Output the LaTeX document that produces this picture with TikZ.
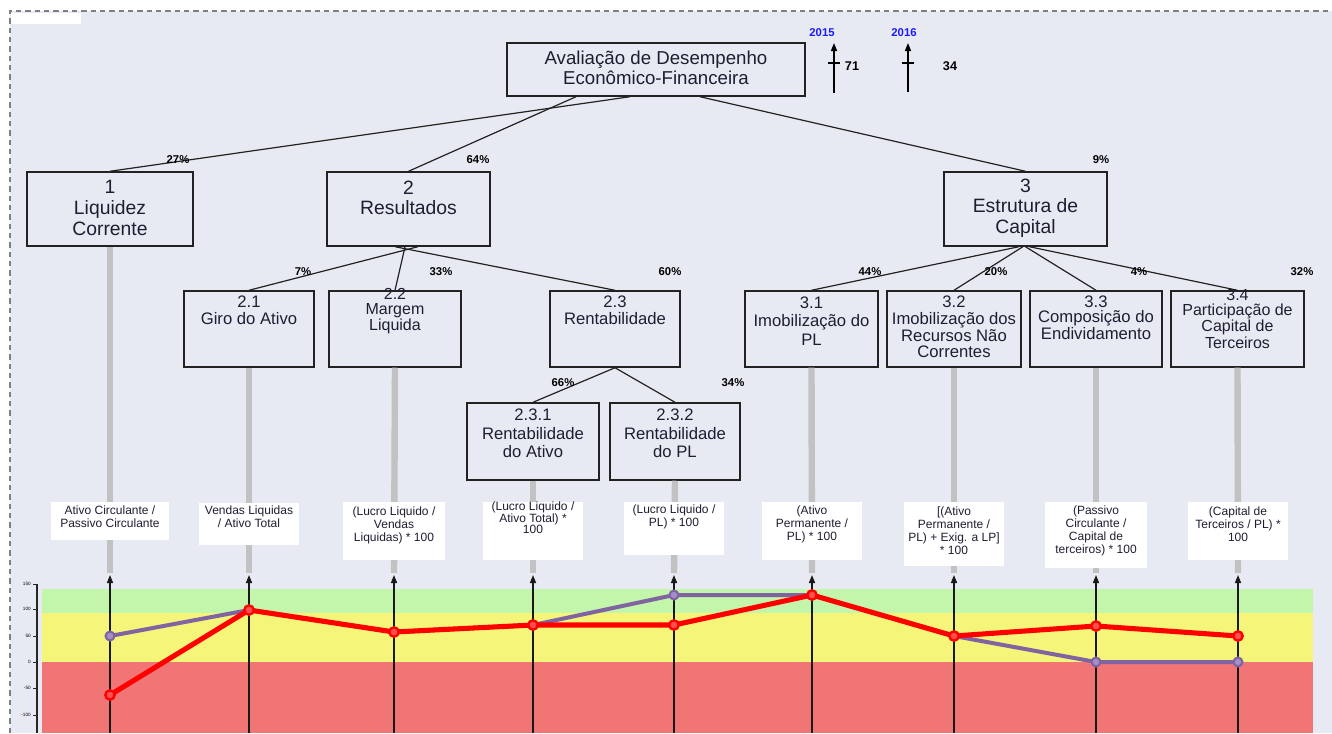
\documentclass[tikz,border=0pt]{standalone}
\usepackage{fontspec}
\setmainfont{Liberation Sans}
\usetikzlibrary{fit,arrows.meta}
\definecolor{bgc}{HTML}{E8EAF3}
\definecolor{gbar}{HTML}{C2C2C2}
\definecolor{bgreen}{HTML}{C3F5AB}
\definecolor{byellow}{HTML}{F5F57A}
\definecolor{bred}{HTML}{F27576}
\definecolor{lpurple}{HTML}{8064A2}
\definecolor{lpurplef}{HTML}{A48FCB}
\definecolor{lred}{HTML}{FF0000}
\definecolor{lredf}{HTML}{FF5050}
\definecolor{yblue}{HTML}{1A1AFF}
\definecolor{boxc}{HTML}{222222}
\definecolor{txtc}{HTML}{1E1E32}
\newcommand\myfs[2]{\fontsize{#1}{#2}\selectfont}
\begin{document}
\begin{tikzpicture}[x=0.75pt,y=-0.75pt,
  box/.style={draw=boxc, line width=1.1pt, inner sep=0pt},
  txt/.style={align=center, inner sep=0pt, text=txtc},
  pct/.style={inner sep=0pt, font=\bfseries\myfs{8.5}{9}},
  conn/.style={draw=boxc, line width=0.9pt},
  gbarst/.style={draw=gbar, line width=4.8pt},
  form/.style={fill=white, inner sep=0pt},
  ftxt/.style={align=center, inner sep=0pt, font=\myfs{9}{9.75}, text=txtc},
  vax/.style={draw=black!90, line width=1.1pt, -{Triangle[length=6pt,width=4.5pt]}},
  year/.style={inner sep=0pt, text=yblue, font=\bfseries\myfs{8.5}{9}},
  num/.style={inner sep=0pt, font=\bfseries\myfs{9.5}{10}},
  axl/.style={inner sep=0pt, anchor=east, font=\myfs{3.5}{4}},
  pline/.style={draw=lpurple, line width=3pt, line join=round},
  rline/.style={draw=lred, line width=3.8pt, line join=round},
  pdot/.style={circle, inner sep=0pt, minimum size=6.5pt, draw=lpurple, fill=lpurplef, line width=1.5pt},
  rdot/.style={circle, inner sep=0pt, minimum size=7pt, draw=lred, fill=lredf, line width=1.8pt}
]
\useasboundingbox (0,0) rectangle (1332,733);
% background
\fill[white] (0,0) rectangle (1332,733);
\fill[bgc] (10,11) rectangle (1332,733);
\draw[gray, line width=0.8pt, dash pattern=on 4pt off 3pt] (10,733) -- (10,11) -- (1332,11);
\fill[white] (11,13) rectangle (81,24);

% chart bands
\fill[bgreen] (42,589) rectangle (1313,613);
\fill[byellow] (42,613) rectangle (1313,662);
\fill[bred] (42,662) rectangle (1313,733);

% top box
\node[box, fit={(507,43)(805,96)}] (top) {};
\node[txt, font=\myfs{14}{15}] (topt) at (656,68) {Avaliação de Desempenho\\Econômico-Financeira};

% year arrows
\coordinate (a1b) at (834,93); \coordinate (a1t) at (834,43); \coordinate (k1) at (834,63);
\draw[black, line width=1.1pt, -{Triangle[length=6pt,width=4.5pt]}] (a1b) -- (a1t);
\draw[black, line width=1.1pt] ([xshift=-4.5pt]k1) -- ([xshift=4.5pt]k1);
\node[year] (y1) at (822,33) {2015};
\node[num] (n1) at (852,66) {71};
\coordinate (a2b) at (908,92); \coordinate (a2t) at (908,43); \coordinate (k2) at (908,63);
\draw[black, line width=1.1pt, -{Triangle[length=6pt,width=4.5pt]}] (a2b) -- (a2t);
\draw[black, line width=1.1pt] ([xshift=-4.5pt]k2) -- ([xshift=4.5pt]k2);
\node[year] (y2) at (904,33) {2016};
\node[num] (n2) at (950,66) {34};

% level 1
\node[box, fit={(27,172)(193,246)}] (b1) {};
\node[txt, font=\myfs{14.5}{15.5}] at (110,208) {1\\Liquidez\\Corrente};
\node[box, fit={(327,172)(490,246)}] (b2) {};
\node[txt, font=\myfs{14.5}{15.5}] at (408.5,198) {2\\Resultados};
\node[box, fit={(944,172)(1107,246)}] (b3) {};
\node[txt, font=\myfs{14.5}{15.5}] at (1025.5,208) {3\\Estrutura de\\Capital};

\draw[conn] ([xshift=-19.5pt]top.south) -- (b1.north);
\draw[conn] ([xshift=-60pt]top.south) -- (b2.north);
\draw[conn] ([xshift=33pt]top.south) -- (b3.north);
\node[pct] at (178,160) {27\%};
\node[pct] at (478,160) {64\%};
\node[pct] at (1101,160) {9\%};

% level 2
\node[box, fit={(184,291)(314,367)}] (b21) {};
\node[txt, font=\myfs{12.5}{12.75}] at (249,310.5) {2.1\\Giro do Ativo};
\node[box, fit={(329,291)(461,367)}] (b22) {};
\node[txt, font=\myfs{12}{11}] at (395,311) {2.2\\Margem\\Liquida};
\node[box, fit={(550,291)(680,367)}] (b23) {};
\node[txt, font=\myfs{12.5}{12.75}] at (615,310.5) {2.3\\Rentabilidade};
\node[box, fit={(467,403)(599,480)}] (b231) {};
\node[txt, font=\myfs{12.5}{13.9}] at (533,433.5) {2.3.1\\Rentabilidade\\do Ativo};
\node[box, fit={(610,403)(740,480)}] (b232) {};
\node[txt, font=\myfs{12.5}{13.9}] at (675,433.5) {2.3.2\\Rentabilidade\\do PL};

\node[box, fit={(745,291)(878,367)}] (b31) {};
\node[txt, font=\myfs{12.5}{14}] at (811.5,321) {3.1\\Imobilização do\\PL};
\node[box, fit={(887,291)(1021,367)}] (b32) {};
\node[txt, font=\myfs{12.5}{12.5}] at (954,327) {3.2\\Imobilização dos\\Recursos Não\\Correntes};
\node[box, fit={(1030,291)(1162,367)}] (b33) {};
\node[txt, font=\myfs{12.5}{11.5}] at (1096,318) {3.3\\Composição do\\Endividamento};
\node[box, fit={(1171,291)(1304,367)}] (b34) {};
\node[txt, font=\myfs{12}{11}] at (1237.5,319) {3.4\\Participação de\\Capital de\\Terceiros};

\draw[conn] ([xshift=7pt]b2.south) -- (b21.north);
\draw[conn] ([xshift=-2.6pt]b2.south) -- (b22.north);
\draw[conn] ([xshift=-10pt]b2.south) -- (b23.north);
\node[pct] at (303,272) {7\%};
\node[pct] at (441,272) {33\%};
\node[pct] at (670,272) {60\%};

\draw[conn] (b23.south) -- (b231.north);
\draw[conn] (b23.south) -- (b232.north);
\node[pct] at (563,383) {66\%};
\node[pct] at (733,383) {34\%};

\draw[conn] ([xshift=-5pt]b3.south) -- (b31.north);
\draw[conn] ([xshift=-2pt]b3.south) -- (b32.north);
\draw[conn] (b3.south) -- (b33.north);
\draw[conn] ([xshift=3pt]b3.south) -- (b34.north);
\node[pct] at (870,272) {44\%};
\node[pct] at (996,272) {20\%};
\node[pct] at (1139,272) {4\%};
\node[pct] at (1302,272) {32\%};

% column coordinates
\foreach \i/\x in {1/110,2/249,3/394,4/533,5/674,6/812,7/954,8/1096,9/1238}{
  \coordinate (t\i) at (\x,573);
  \coordinate (v\i) at (\x,575);
  \coordinate (u\i) at (\x,733);
}
% grey bars
\draw[gbarst] (b1.south) -- (t1);
\draw[gbarst] (b21.south) -- (t2);
\draw[gbarst] (b22.south) -- (t3);
\draw[gbarst] (b231.south) -- (t4);
\draw[gbarst] (b232.south) -- (t5);
\draw[gbarst] (b31.south) -- (t6);
\draw[gbarst] (b32.south) -- (t7);
\draw[gbarst] (b33.south) -- (t8);
\draw[gbarst] (b34.south) -- (t9);

% formula boxes
\node[form, fit={(51,502)(169,540)}] (f1) {};
\node[ftxt] at (110,516.5) {Ativo Circulante  /\\Passivo Circulante};
\node[form, fit={(199,503)(299,545)}] (f2) {};
\node[ftxt] at (249,517) {Vendas  Liquidas\\/ Ativo Total};
\node[form, fit={(343,502)(445,560)}] (f3) {};
\node[ftxt] at (394,525) {(Lucro Liquido  /\\Vendas\\Liquidas) * 100};
\node[form, fit={(483,502)(583,560)}] (f4) {};
\node[ftxt, font=\myfs{9}{8.6}] at (533,518) {(Lucro Liquido  /\\Ativo Total) *\\100};
\node[form, fit={(624,502)(724,555)}] (f5) {};
\node[ftxt] at (674,517) {(Lucro Liquido  /\\PL) * 100};
\node[form, fit={(762,502)(862,560)}] (f6) {};
\node[ftxt] at (812,524) {(Ativo\\Permanente  /\\PL) * 100};
\node[form, fit={(904,502)(1004,566)}] (f7) {};
\node[ftxt] at (954,531) {[(Ativo\\Permanente  /\\PL) + Exig. a LP]\\* 100};
\node[form, fit={(1045,502)(1147,568)}] (f8) {};
\node[ftxt] at (1096,531) {(Passivo\\Circulante /\\Capital de\\terceiros) * 100};
\node[form, fit={(1188,502)(1288,560)}] (f9) {};
\node[ftxt] at (1238,524) {(Capital de\\Terceiros / PL) *\\100};

% chart axis
\draw[black!85, line width=1.1pt] (37,584) -- (37,733);
\foreach \yy/\lab in {584/150,609/100,636/50,662/0,688/-50,715/-100}{
  \draw[black!85, line width=0.6pt] (33,\yy) -- (37,\yy);
  \node[axl] at (31,\yy) {\lab};
}
% vertical arrows
\foreach \i in {1,...,9}{ \draw[vax] (u\i) -- (v\i); }

% data: purple
\node[pdot] (p1) at (110,636) {};
\node[pdot] (p2) at (249,610) {};
\node[pdot] (p3) at (394,632) {};
\node[pdot] (p4) at (533,625) {};
\node[pdot] (p5) at (674,595) {};
\node[pdot] (p6) at (812,595) {};
\node[pdot] (p7) at (954,636) {};
\node[pdot] (p8) at (1096,662) {};
\node[pdot] (p9) at (1238,662) {};
\draw[pline] (p1.center) -- (p2.center) -- (p3.center) -- (p4.center) -- (p5.center) -- (p6.center) -- (p7.center) -- (p8.center) -- (p9.center);
\foreach \i in {1,...,9}{ \node[pdot] at (p\i) {}; }
% data: red
\coordinate (r1) at (110,695);
\coordinate (r2) at (249,610);
\coordinate (r3) at (394,632);
\coordinate (r4) at (533,625);
\coordinate (r5) at (674,625);
\coordinate (r6) at (812,595);
\coordinate (r7) at (954,636);
\coordinate (r8) at (1096,626);
\coordinate (r9) at (1238,636);
\draw[rline] (r1) -- (r2) -- (r3) -- (r4) -- (r5) -- (r6) -- (r7) -- (r8) -- (r9);
\foreach \i in {1,...,9}{ \node[rdot] (rd\i) at (r\i) {}; }
\end{tikzpicture}
\end{document}
